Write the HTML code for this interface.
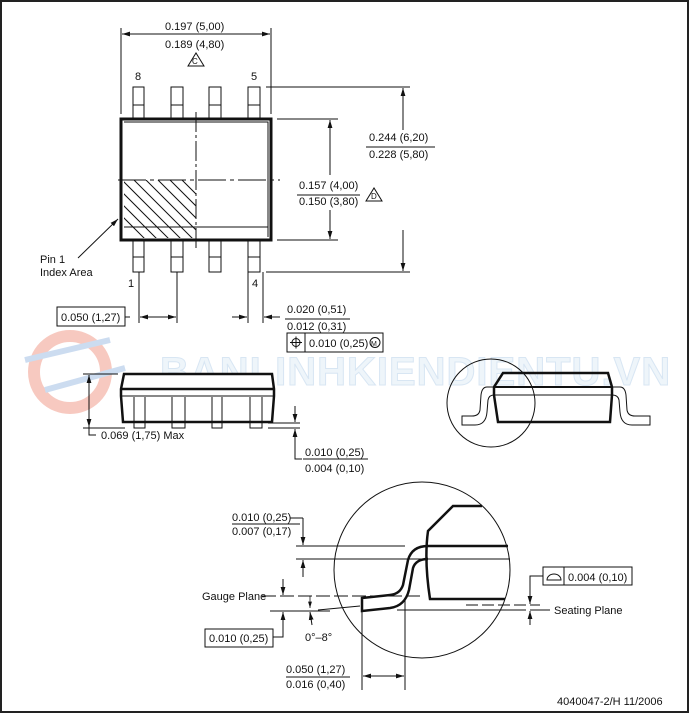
<!DOCTYPE html>
<html><head><meta charset="utf-8"><style>
html,body{margin:0;padding:0;background:#fff}
svg{display:block}
text{font-family:"Liberation Sans",sans-serif;font-size:11px;fill:#111}
</style></head><body>
<svg width="689" height="713" viewBox="0 0 689 713" xmlns="http://www.w3.org/2000/svg">
<defs>
<marker id="a" viewBox="0 0 10 10" refX="10" refY="5" markerWidth="8" markerHeight="8" orient="auto-start-reverse"><path d="M0,2 L10,5 L0,8z" fill="#111"/></marker>
</defs>
<rect x="1" y="1" width="687" height="711" fill="none" stroke="#222" stroke-width="2"/>

<!-- watermark -->
<g opacity="0.45">
<circle cx="70" cy="372" r="36" fill="none" stroke="#ee8a76" stroke-width="12"/>
<path d="M25,360 L110,340 M45,390 L125,368" stroke="#8fb3df" stroke-width="6"/>
<text x="160" y="385" style="font-size:40px;font-weight:bold;fill:#dbe9f6;stroke:#a9c8e6;stroke-width:1;letter-spacing:1px">BANLINHKIENDIENTU.VN</text>
</g>

<g stroke="#111" fill="none" stroke-width="1">
<rect x="121" y="119" width="150" height="121" stroke-width="3"/>
<path d="M124,122 H268 V237 M124,227 H268"/>
<path d="M133,87h11v32h-11z M171,87h12v32h-12z M209,87h12v32h-12z M248,87h12v32h-12z"/>
<path d="M133,105h11 M171,105h12 M209,105h12 M248,105h12"/>
<path d="M133,240v32h11v-32 M171,240v32h12v-32 M209,240v32h12v-32 M248,240v32h12v-32"/>
<path d="M133,257h11 M171,257h12 M209,257h12 M248,257h12"/>
<path d="M196,112V248" stroke-dasharray="20,3,3,3"/>
<path d="M118,180H280" stroke-dasharray="28,4,4,4"/>
<clipPath id="h"><rect x="124" y="180" width="72" height="58"/></clipPath>
<g clip-path="url(#h)">
<path d="M110,180l60,60 M122,180l60,60 M134,180l60,60 M146,180l60,60 M158,180l60,60 M170,180l60,60 M182,180l60,60 M98,180l60,60 M86,180l60,60"/>
</g>
<path d="M121,28V114 M271,28V114"/>
<path d="M196,34H122" marker-end="url(#a)"/><path d="M196,34H270" marker-end="url(#a)"/>
<path d="M188,66l8,-13l8,13z"/>
<path d="M266,87H410 M266,272H410 M277,119H338 M277,240H338"/>
<path d="M403,130V88" marker-end="url(#a)"/><path d="M403,230V271" marker-end="url(#a)"/>
<path d="M330,175V120" marker-end="url(#a)"/><path d="M330,210V239" marker-end="url(#a)"/>
<path d="M366,201l8,-13l8,13z"/>
<path d="M78,258L118,219" marker-end="url(#a)"/>
<path d="M139,272V323 M177,272V323 M248,272V323 M263,272V323"/>
<path d="M158,317H140" marker-end="url(#a)"/><path d="M158,317H176" marker-end="url(#a)"/>
<path d="M232,317H247" marker-end="url(#a)"/><path d="M280,317H264" marker-end="url(#a)"/>
<rect x="57" y="307" width="68" height="19"/>
<path d="M125,317H130"/>
<rect x="287" y="333" width="96" height="19"/><path d="M305,333V352"/>
<circle cx="296" cy="342.5" r="4"/><path d="M290,342.5h12 M296,336.5v12"/>
<circle cx="375" cy="342.5" r="5"/>
</g>
<g stroke="#111" stroke-width="1">
<path d="M366,147H435 M297,195H360 M285,319H350 M303,459H368 M232,524H300 M286,677H350"/>
</g>

<g stroke="#111" fill="none">
<path d="M124,374H272L274,389V396L272,422H123L121,396V389z" stroke-width="2.5" fill="#fff"/>
<path d="M121,389H274" stroke-width="2.5"/><path d="M121,396H274"/>
<path d="M134,397v31h11v-31 M172,397v31h13v-31 M212,397v31h10v-31 M250,397v31h12v-31"/>
<path d="M83,374H118 M83,428H125"/>
<path d="M89,400V375" marker-end="url(#a)"/><path d="M89,400V427" marker-end="url(#a)"/>
<path d="M89,427V435H96"/>
<path d="M268,423H300 M268,428H300"/>
<path d="M295,406V422" marker-end="url(#a)"/><path d="M295,445V429" marker-end="url(#a)"/>
<path d="M295,445V459H302"/>
<circle cx="491" cy="403" r="44"/>
<path d="M503,373H608L612,387V395L610,422H498L494,395V387z" stroke-width="2.5"/>
<path d="M494,387H612" stroke-width="2"/><path d="M494,395H612"/>
<path d="M494,387H487Q482,387 481,395L480,410Q479,416 472,416H462V425H475Q486,425 487,412L488,400Q489,395 494,395"/>
<path d="M612,387H620Q625,387 626,395L627,410Q628,416 635,416H650V425H632Q621,425 620,412L619,400Q618,395 612,395"/>
</g>

<g stroke="#111" fill="none">
<circle cx="422" cy="570" r="88"/>
<path d="M482,506H453L428,531Q424,560 430,599H505" stroke-width="2.5"/>
<path d="M428,546H508" stroke-width="2.5"/><path d="M296,546H405 M296,559H510"/>
<path d="M428,546Q412,546 408,560L403,585Q400,594 390,595L362,598V611L390,608Q405,606 409,590L413,568Q416,559 428,559" stroke-width="2.5"/>
<path d="M262,596H420" stroke-dasharray="14,4"/>
<path d="M397,610H526 M270,611H330 M318,610L360,606"/>
<path d="M466,605H540" stroke-dasharray="12,4"/>
<path d="M303,518V545" marker-end="url(#a)"/><path d="M303,577V560" marker-end="url(#a)"/><path d="M290,518H303"/>
<path d="M283,579V595" marker-end="url(#a)"/><path d="M283,626V612" marker-end="url(#a)"/><path d="M273,637H283V626"/>
<path d="M310,596V608" marker-end="url(#a)" stroke-width="0.8"/><path d="M312,625L310,612" marker-end="url(#a)"/>
<rect x="205" y="629" width="68" height="18"/>
<path d="M362,612V690 M405,600V690"/>
<path d="M383,676H363" marker-end="url(#a)"/><path d="M383,676H404" marker-end="url(#a)"/>
<rect x="543" y="567" width="89" height="18"/><path d="M564,567V585"/>
<path d="M547,580a7,6 0 0 1 14,0z"/>
<path d="M543,576H530V604" /><path d="M530,590V604" marker-end="url(#a)"/><path d="M530,625V611" marker-end="url(#a)"/>
<path d="M530,610H550"/>
</g>

<g>
<text x="165" y="30">0.197 (5,00)</text><text x="165" y="48">0.189 (4,80)</text>
<text x="192" y="64" style="font-size:8px">C</text>
<text x="135" y="80">8</text><text x="251" y="80">5</text>
<text x="369" y="141">0.244 (6,20)</text><text x="369" y="158">0.228 (5,80)</text>
<text x="299" y="189">0.157 (4,00)</text><text x="299" y="205">0.150 (3,80)</text>
<text x="371" y="199" style="font-size:8px">D</text>
<text x="40" y="263">Pin 1</text><text x="40" y="276">Index Area</text>
<text x="128" y="287">1</text><text x="252" y="287">4</text>
<text x="61" y="321">0.050 (1,27)</text>
<text x="287" y="313">0.020 (0,51)</text><text x="287" y="330">0.012 (0,31)</text>
<text x="309" y="347">0.010 (0,25)</text><text x="371" y="346" style="font-size:7px">M</text>
<text x="101" y="439">0.069 (1,75) Max</text>
<text x="305" y="456">0.010 (0,25)</text><text x="305" y="472">0.004 (0,10)</text>
<text x="232" y="521">0.010 (0,25)</text><text x="232" y="535">0.007 (0,17)</text>
<text x="202" y="600">Gauge Plane</text>
<text x="209" y="642">0.010 (0,25)</text>
<text x="305" y="641">0°–8°</text>
<text x="568" y="581">0.004 (0,10)</text>
<text x="554" y="614">Seating Plane</text>
<text x="286" y="673">0.050 (1,27)</text><text x="286" y="688">0.016 (0,40)</text>
<text x="557" y="705">4040047-2/H  11/2006</text>
</g>
</svg>
</body></html>
